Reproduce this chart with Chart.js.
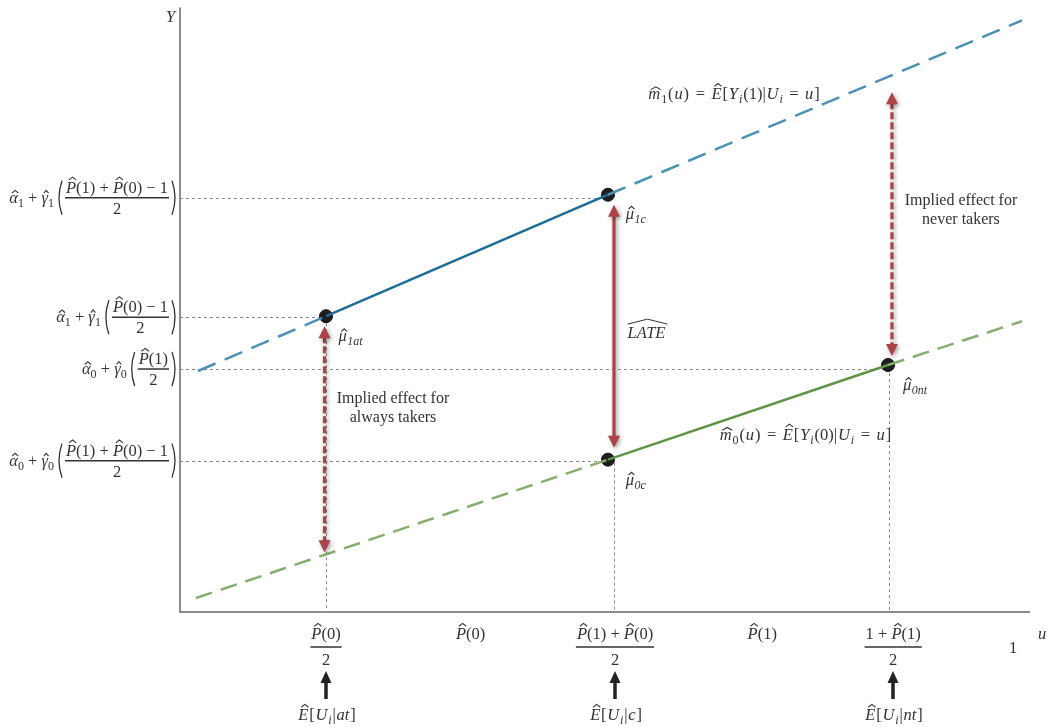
<!DOCTYPE html>
<html>
<head>
<meta charset="utf-8">
<script src="https://cdn.jsdelivr.net/npm/chart.js@4/dist/chart.umd.min.js"></script>
<style>
html,body{margin:0;padding:0;background:#fff;}
#wrap{width:1050px;height:727px;}
</style>
</head>
<body>
<div id="wrap"><canvas id="c" width="1050" height="727"></canvas></div>
<script>
// ---- data ----
const uAt = 0.1718;       // P(0)/2
const uC = 0.5035;        // (P(1)+P(0))/2 (points)
const uCArrow = 0.5106;
const uNt = 0.833;        // (1+P(1))/2
// line m1 (treated) dashed extent and m0 (untreated)
const m1DashedX = [0.0212, 0.9906];
const m1DashedY = [242, 594];
const m0DashedX = [0.0188, 0.9906];
const m0DashedY = [14, 292];
// estimated points
const pointX = [0.1718, 0.5035, 0.5035, 0.833];
const pointY = [297, 419, 153, 248];
// arrows (x, y from, y to)
const arrowX = [0.170, 0.5106, 0.8376];
const arrowY0 = [287, 409, 522];
const arrowY1 = [60, 165, 257];
const arrowDashed = [true, false, true];
// y tick values (labelled positions)
const yTickVals = [416, 296, 244, 152];
// x tick values
const xTickVals = [0.1718, 0.342, 0.5118, 0.685, 0.839, 0.98];
const xArrowVals = [0.1718, 0.5118, 0.8388];

const FONT = '"Liberation Serif", "DejaVu Serif", serif';
const TXT = '#333333';
const FS = 16.5, FSS = 12;

// ---- math text helpers ----
function fontFor(f){
  switch(f){
    case 'i': return 'italic ' + FS + 'px ' + FONT;
    case 'sub': return 'italic ' + FSS + 'px ' + FONT;
    case 'subr': return FSS + 'px ' + FONT;
    default: return FS + 'px ' + FONT;
  }
}
let KERN = 0;
function partW(ctx,p){ ctx.font = fontFor(p.f||'r'); return ctx.measureText(p.t).width; }
function mathW(ctx,parts){ let w=0; parts.forEach(p=>{ w += partW(ctx,p) + (p.sp||0)*2 + KERN; }); return w - KERN; }
function drawMath(ctx,parts,x,base){
  let cx = x;
  parts.forEach(p=>{
    const f = p.f||'r';
    ctx.font = fontFor(f);
    const w = ctx.measureText(p.t).width;
    const dy = (f==='sub'||f==='subr') ? 4 : 0;
    cx += (p.sp||0);
    ctx.fillStyle = TXT;
    ctx.fillText(p.t, cx, base+dy);
    if (p.hat){
      const top = base - (p.hat==='up' ? 12.8 : 9.5);
      const mid = cx + w/2 + (f==='i'?1.5:0);
      const hw = p.wide ? w*0.42 : Math.min(w*0.36, 4.2);
      ctx.beginPath(); ctx.strokeStyle = TXT; ctx.lineWidth = 1.1;
      ctx.moveTo(mid-hw, top); ctx.lineTo(mid, top-2.8); ctx.lineTo(mid+hw, top);
      ctx.stroke();
    }
    cx += w + (p.sp||0) + KERN;
  });
  return cx;
}
function paren(ctx,x,cy,h,left){
  ctx.beginPath(); ctx.strokeStyle = TXT; ctx.lineWidth = 1.3;
  const d = left ? -5 : 5;
  ctx.moveTo(x, cy-h/2);
  ctx.quadraticCurveTo(x+d*1.2, cy, x, cy+h/2);
  ctx.stroke();
}
const R = t=>({t, f:'r'});
const I = t=>({t, f:'i'});
const IH = t=>({t, f:'i', hat:'up'});
const IHl = t=>({t, f:'i', hat:'low'});
const S = t=>({t, f:'subr'});
const SI = t=>({t, f:'sub'});
const P0 = [IH('P'), R('(0)')];
const P1 = [IH('P'), R('(1)')];
const OPS = t=>({t:' '+t+' ', f:'r'});
const OPW = t=>({t:' '+t+' ', f:'r', sp:1.5});

const yLabels = [
  {pre:[IHl('α'),S('1'),OPS('+'),IHl('γ'),S('1')], num:[...P1,OPS('+'),...P0,OPS('−'),R('1')], den:[R('2')]},
  {pre:[IHl('α'),S('1'),OPS('+'),IHl('γ'),S('1')], num:[...P0,OPS('−'),R('1')], den:[R('2')]},
  {pre:[IHl('α'),S('0'),OPS('+'),IHl('γ'),S('0')], num:[...P1], den:[R('2')]},
  {pre:[IHl('α'),S('0'),OPS('+'),IHl('γ'),S('0')], num:[...P1,OPS('+'),...P0,OPS('−'),R('1')], den:[R('2')]}
];
const xLabels = [
  {num:[...P0], den:[R('2')]},
  {single:[...P0]},
  {num:[...P1,OPS('+'),...P0], den:[R('2')]},
  {single:[...P1]},
  {num:[R('1'),OPS('+'),...P1], den:[R('2')]},
  {one:[R('1')]}
];
const bottomLabels = [
  [IH('E'),R('['),I('U'),SI('i'),R('|'),I('at'),R(']')],
  [IH('E'),R('['),I('U'),SI('i'),R('|'),I('c'),R(']')],
  [IH('E'),R('['),I('U'),SI('i'),R('|'),I('nt'),R(']')]
];

function drawFrac(ctx,num,den,cx,barY,numBase,denBase){
  const wn = mathW(ctx,num), wd = mathW(ctx,den);
  const w = Math.max(wn,wd)+2;
  ctx.beginPath(); ctx.strokeStyle = TXT; ctx.lineWidth = 1.5;
  ctx.moveTo(cx-w/2, barY); ctx.lineTo(cx+w/2, barY); ctx.stroke();
  drawMath(ctx,num,cx-wn/2,numBase);
  drawMath(ctx,den,cx-wd/2,denBase);
  return w;
}

const overlay = {
  id:'overlay',
  beforeDatasetsDraw(chart){
    const ctx = chart.ctx, xs = chart.scales.x, ys = chart.scales.y;
    const ca = chart.chartArea;
    ctx.save();
    ctx.strokeStyle = '#8a8a8a'; ctx.lineWidth = 1; ctx.setLineDash([3,3]);
    const hg = [[416,uC-0.005],[296,uAt-0.007],[244,uNt-0.004],[152,uC-0.006]];
    hg.forEach(([yv,xe])=>{
      const py = Math.round(ys.getPixelForValue(yv))+0.5;
      ctx.beginPath(); ctx.moveTo(ca.left, py); ctx.lineTo(xs.getPixelForValue(xe), py); ctx.stroke();
    });
    const vg = [[uAt,296],[uCArrow,150],[uNt+0.001,246]];
    vg.forEach(([xv,yv])=>{
      const px = Math.round(xs.getPixelForValue(xv))+0.5;
      ctx.beginPath(); ctx.moveTo(px, ys.getPixelForValue(yv)); ctx.lineTo(px, ca.bottom); ctx.stroke();
    });
    ctx.setLineDash([]);
    ctx.strokeStyle = '#8c8c8c'; ctx.lineWidth = 2;
    ctx.beginPath(); ctx.moveTo(ca.left, ca.top); ctx.lineTo(ca.left, ca.bottom); ctx.lineTo(ca.right, ca.bottom); ctx.stroke();
    ctx.restore();
  },
  afterDatasetsDraw(chart){
    const ctx = chart.ctx, xs = chart.scales.x, ys = chart.scales.y;
    const ca = chart.chartArea;
    ctx.save();
    // red arrows
    arrowX.forEach((xv,i)=>{
      const px = xs.getPixelForValue(xv);
      const y0 = ys.getPixelForValue(arrowY0[i]), y1 = ys.getPixelForValue(arrowY1[i]);
      ctx.save();
      ctx.shadowColor = 'rgba(0,0,0,0.4)'; ctx.shadowBlur = 4; ctx.shadowOffsetX = 1.5; ctx.shadowOffsetY = 1.5;
      ctx.strokeStyle = '#ad4247'; ctx.fillStyle = '#ad4247'; ctx.lineWidth = 3.2;
      ctx.setLineDash(arrowDashed[i] ? [7,3] : []);
      ctx.beginPath(); ctx.moveTo(px, y0+10); ctx.lineTo(px, y1-10); ctx.stroke();
      ctx.setLineDash([]);
      ctx.beginPath(); ctx.moveTo(px, y0); ctx.lineTo(px-6, y0+12); ctx.lineTo(px+6, y0+12); ctx.closePath(); ctx.fill();
      ctx.beginPath(); ctx.moveTo(px, y1); ctx.lineTo(px-6, y1-12); ctx.lineTo(px+6, y1-12); ctx.closePath(); ctx.fill();
      ctx.restore();
    });
    // y labels
    KERN = 0;
    yLabels.forEach((L,i)=>{
      const cy = ys.getPixelForValue(yTickVals[i]);
      const right = ca.left - 5;
      const wn = mathW(ctx,L.num), wd = mathW(ctx,L.den);
      const fw = Math.max(wn,wd)+2;
      const tall = 34;
      const closeX = right - 3;
      const fracC = closeX - 3 - fw/2;
      drawFrac(ctx,L.num,L.den,fracC,cy,cy-5,cy+16);
      const openX = fracC - fw/2 - 3;
      paren(ctx,closeX,cy,tall,false);
      paren(ctx,openX,cy,tall,true);
      const pw = mathW(ctx,L.pre);
      drawMath(ctx,L.pre,openX-8-pw,cy+5);
    });
    // x labels
    const barY = ca.bottom + 35;
    xLabels.forEach((L,i)=>{
      const cx = xs.getPixelForValue(xTickVals[i]);
      if (L.num){ drawFrac(ctx,L.num,L.den,cx,barY,barY-8,barY+18); }
      else if (L.single){ const w = mathW(ctx,L.single); drawMath(ctx,L.single,cx-w/2,barY-8); }
      else { const w = mathW(ctx,L.one); drawMath(ctx,L.one,cx-w/2,barY+6); }
    });
    drawMath(ctx,[I('u')],ca.right+8,ca.bottom+27);
    drawMath(ctx,[I('Y')],ca.left-14,ca.top+14);
    // bottom up arrows
    xArrowVals.forEach((xv,i)=>{
      const px = Math.round(xs.getPixelForValue(xv));
      ctx.fillStyle = '#222'; ctx.strokeStyle = '#222'; ctx.lineWidth = 3.5;
      ctx.beginPath(); ctx.moveTo(px, ca.bottom+87); ctx.lineTo(px, ca.bottom+68); ctx.stroke();
      ctx.beginPath(); ctx.moveTo(px, ca.bottom+59); ctx.lineTo(px-5.5, ca.bottom+71); ctx.lineTo(px+5.5, ca.bottom+71); ctx.closePath(); ctx.fill();
      KERN = 0.8;
      const w = mathW(ctx,bottomLabels[i]);
      drawMath(ctx,bottomLabels[i],px-w/2+1,ca.bottom+108);
      KERN = 0;
    });
    // curve labels
    const m1 = [{t:'m', f:'i', hat:'low', wide:true},S('1'),R('('),I('u'),R(')'),OPW('='),IH('E'),R('['),I('Y'),SI('i'),R('(1)|'),I('U'),SI('i'),OPW('='),I('u'),R(']')];
    const m0 = [{t:'m', f:'i', hat:'low', wide:true},S('0'),R('('),I('u'),R(')'),OPW('='),IH('E'),R('['),I('Y'),SI('i'),R('(0)|'),I('U'),SI('i'),OPW('='),I('u'),R(']')];
    KERN = 0.9;
    drawMath(ctx,m1,xs.getPixelForValue(0.551),ys.getPixelForValue(515));
    drawMath(ctx,m0,xs.getPixelForValue(0.635),ys.getPixelForValue(173));
    KERN = 0.5;
    const mu = s=>[IHl('μ'),SI(s)];
    drawMath(ctx,mu('1c'),xs.getPixelForValue(0.5245),ys.getPixelForValue(395));
    drawMath(ctx,mu('1at'),xs.getPixelForValue(0.1865),ys.getPixelForValue(272));
    drawMath(ctx,mu('0nt'),xs.getPixelForValue(0.8505),ys.getPixelForValue(223));
    drawMath(ctx,mu('0c'),xs.getPixelForValue(0.5245),ys.getPixelForValue(128));
    KERN = 0;
    // LATE
    const lx = xs.getPixelForValue(0.5265), lb = ys.getPixelForValue(275);
    ctx.font = fontFor('i'); ctx.fillStyle = TXT;
    const lw = ctx.measureText('LATE').width;
    ctx.fillText('LATE', lx, lb);
    ctx.beginPath(); ctx.strokeStyle = TXT; ctx.lineWidth = 1;
    ctx.moveTo(lx, lb-14); ctx.lineTo(lx+lw/2+1, lb-19); ctx.lineTo(lx+lw+2, lb-14); ctx.stroke();
    // implied effect texts
    ctx.font = '16px ' + FONT; ctx.fillStyle = TXT; ctx.textAlign = 'center';
    const ax = xs.getPixelForValue(0.2506), nx = xs.getPixelForValue(0.9188);
    ctx.fillText('Implied effect for', ax, ys.getPixelForValue(210));
    ctx.fillText('always takers', ax, ys.getPixelForValue(191));
    ctx.fillText('Implied effect for', nx, ys.getPixelForValue(409));
    ctx.fillText('never takers', nx, ys.getPixelForValue(390));
    ctx.textAlign = 'left';
    ctx.restore();
  }
};

const BLUE = '#1c6e97', BLUE_L = '#4b91b6', GREEN = '#5f9444', GREEN_L = '#86ae6d';
// dashed parts exclude the solid segment between estimated points
const dashed = (xe,ye,xa,ya,xb,yb)=>[{x:xe[0],y:ye[0]},{x:xa,y:ya},{x:(xa+xb)/2,y:null},{x:xb,y:yb},{x:xe[1],y:ye[1]}];

new Chart(document.getElementById('c'), {
  type:'scatter',
  data:{datasets:[
    {data:dashed(m1DashedX,m1DashedY,pointX[0],pointY[0],pointX[1],pointY[1]), showLine:true, spanGaps:false, borderColor:BLUE_L, borderWidth:2.5, borderDash:[19,10], pointRadius:0},
    {data:dashed(m0DashedX,m0DashedY,pointX[2],pointY[2],pointX[3],pointY[3]), showLine:true, spanGaps:false, borderColor:GREEN_L, borderWidth:2.5, borderDash:[17,9], pointRadius:0},
    {data:[{x:pointX[0],y:pointY[0]},{x:pointX[1],y:pointY[1]}], showLine:true, borderColor:BLUE, borderWidth:2.5, pointRadius:0},
    {data:[{x:pointX[2],y:pointY[2]},{x:pointX[3],y:pointY[3]}], showLine:true, borderColor:GREEN, borderWidth:2.5, pointRadius:0},
    {data:pointX.map((x,i)=>({x, y:pointY[i]})), showLine:false, pointRadius:6.5, pointBackgroundColor:'#1e1e1e', pointBorderColor:'#111', pointBorderWidth:1}
  ]},
  options:{
    responsive:false, animation:false, devicePixelRatio:1,
    layout:{padding:{left:180, right:20, top:5, bottom:115}},
    plugins:{legend:{display:false}, tooltip:{enabled:false}},
    scales:{
      x:{type:'linear', min:0, max:1, display:false},
      y:{type:'linear', min:0, max:607, display:false}
    }
  },
  plugins:[overlay]
});
</script>
</body>
</html>
